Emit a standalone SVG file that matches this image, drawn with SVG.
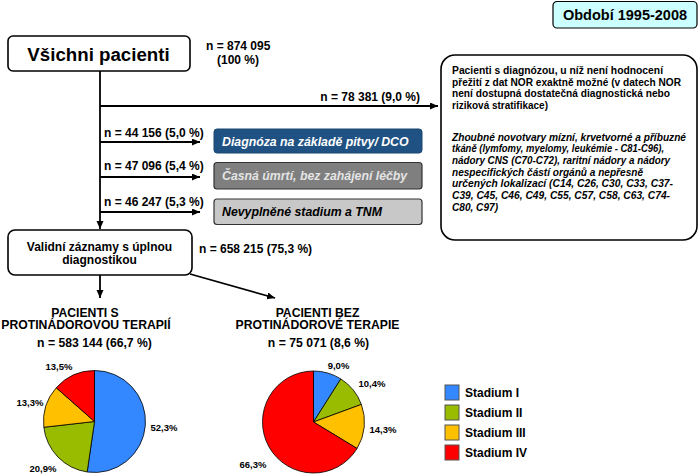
<svg xmlns="http://www.w3.org/2000/svg" width="700" height="474" viewBox="0 0 700 474">
<defs>
<marker id="arr" markerUnits="userSpaceOnUse" markerWidth="10" markerHeight="8" refX="8" refY="3.5" orient="auto">
<path d="M0,0 L8,3.5 L0,7 z" fill="#000"/>
</marker>
<style>
text{font-family:"Liberation Sans",Arial,sans-serif;font-weight:bold;fill:#000}
.box{fill:#fff;stroke:#000;stroke-width:1.6}
.ln{fill:none;stroke:#000;stroke-width:1.8}
.n{font-size:12px}
.mid{font-size:12.3px;font-style:italic}
.rt{font-size:11px}
.it{font-style:italic}
.pl{font-size:9.5px;text-anchor:middle}
.hd{font-size:12.2px;text-anchor:middle}
.sl{stroke:#000;stroke-width:0.8}
.lg{stroke:#555;stroke-width:1}
.c1{fill:#3388ff}.c2{fill:#99bb00}.c3{fill:#ffc000}.c4{fill:#ff0000}
</style>
</defs>
<g id="period">
<rect x="553" y="1.5" width="144" height="26.5" rx="4" fill="#ccffff" stroke="#000" stroke-width="1.2"/>
<text x="625" y="20" font-size="14.5" text-anchor="middle">Období 1995-2008</text>
</g>
<g id="all">
<rect class="box" x="8" y="36" width="182" height="35" rx="5"/>
<text x="98.5" y="61" font-size="18.7" text-anchor="middle">Všichni pacienti</text>
<text class="n" x="206" y="50">n = 874 095</text>
<text class="n" x="238" y="63.5" text-anchor="middle">(100 %)</text>
</g>
<g id="connectors">
<line class="ln" x1="100" y1="71" x2="100" y2="229" marker-end="url(#arr)"/>
<line class="ln" x1="100" y1="106" x2="438" y2="106" marker-end="url(#arr)"/>
<line class="ln" x1="100" y1="142" x2="200" y2="142" marker-end="url(#arr)"/>
<line class="ln" x1="100" y1="177" x2="200" y2="177" marker-end="url(#arr)"/>
<line class="ln" x1="100" y1="212" x2="200" y2="212" marker-end="url(#arr)"/>
<line class="ln" x1="100" y1="275" x2="100" y2="298" marker-end="url(#arr)"/>
<line class="ln" x1="190" y1="274" x2="275" y2="298" marker-end="url(#arr)"/>
<text class="n" x="420" y="101" text-anchor="end">n = 78 381 (9,0 %)</text>
<text class="n" x="104" y="137">n = 44 156 (5,0 %)</text>
<text class="n" x="104" y="169.5">n = 47 096 (5,4 %)</text>
<text class="n" x="104" y="206">n = 46 247 (5,3 %)</text>
</g>
<g id="dco">
<rect x="214" y="129" width="208" height="24" rx="3" fill="#1f5282" stroke="#1a4670" stroke-width="1"/>
<text class="mid" x="222" y="146" style="fill:#fff">Diagnóza na základě pitvy/ DCO</text>
</g>
<g id="early">
<rect x="214" y="162.5" width="208" height="26.5" rx="3" fill="#7f7f7f" stroke="#333" stroke-width="1.2"/>
<text class="mid" x="222" y="180" style="fill:#e4e4e4">Časná úmrtí, bez zahájení léčby</text>
</g>
<g id="nostage">
<rect x="214" y="199" width="208" height="25.5" rx="3" fill="#c8c8c8" stroke="#333" stroke-width="1.2"/>
<text class="mid" x="222" y="216">Nevyplněné stadium a TNM</text>
</g>
<g id="excluded">
<rect class="box" x="441" y="55" width="256" height="185" rx="14"/>
<text class="rt" x="452" y="74" textLength="211" lengthAdjust="spacingAndGlyphs">Pacienti s diagnózou, u níž není hodnocení</text>
<text class="rt" x="452" y="85.5" textLength="229" lengthAdjust="spacingAndGlyphs">přežití z dat NOR exaktně možné (v datech NOR</text>
<text class="rt" x="452" y="97" textLength="218" lengthAdjust="spacingAndGlyphs">není dostupná dostatečná diagnostická nebo</text>
<text class="rt" x="452" y="108.5" textLength="96" lengthAdjust="spacingAndGlyphs">riziková stratifikace)</text>
<text class="rt it" x="452" y="140.5" textLength="234" lengthAdjust="spacingAndGlyphs">Zhoubné novotvary mízní, krvetvorné a příbuzné</text>
<text class="rt it" x="452" y="152.2" textLength="212" lengthAdjust="spacingAndGlyphs">tkáně (lymfomy, myelomy, leukémie - C81-C96),</text>
<text class="rt it" x="452" y="163.9" textLength="218" lengthAdjust="spacingAndGlyphs">nádory CNS (C70-C72), raritní nádory a nádory</text>
<text class="rt it" x="452" y="175.6" textLength="191" lengthAdjust="spacingAndGlyphs">nespecifických částí orgánů a nepřesně</text>
<text class="rt it" x="452" y="187.3" textLength="221" lengthAdjust="spacingAndGlyphs">určených lokalizací (C14, C26, C30, C33, C37-</text>
<text class="rt it" x="452" y="199" textLength="218" lengthAdjust="spacingAndGlyphs">C39, C45, C46, C49, C55, C57, C58, C63, C74-</text>
<text class="rt it" x="452" y="210.7" textLength="46" lengthAdjust="spacingAndGlyphs">C80, C97)</text>
</g>
<g id="valid">
<rect class="box" x="8" y="230" width="184" height="45" rx="7"/>
<text class="n" x="99.5" y="251" text-anchor="middle">Validní záznamy s úplnou</text>
<text class="n" x="99.5" y="264" text-anchor="middle">diagnostikou</text>
<text class="n" x="199" y="253">n = 658 215 (75,3 %)</text>
</g>
<g id="withtherapy">
<text class="hd" x="85" y="316.5">PACIENTI S</text>
<text class="hd" x="86" y="329">PROTINÁDOROVOU TERAPIÍ</text>
<text class="hd" x="94.5" y="346.5">n = 583 144 (66,7 %)</text>
<path class="c1 sl" d="M94.5,421.5 L94.5,370.5 A51,51 0 1,1 87.16,471.97 Z"/>
<path class="c2 sl" d="M94.5,421.5 L87.16,471.97 A51,51 0 0,1 43.83,427.26 Z"/>
<path class="c3 sl" d="M94.5,421.5 L43.83,427.26 A51,51 0 0,1 56.24,387.77 Z"/>
<path class="c4 sl" d="M94.5,421.5 L56.24,387.77 A51,51 0 0,1 94.5,370.5 Z"/>
<text class="pl" x="59" y="369.5">13,5%</text>
<text class="pl" x="30" y="405.5">13,3%</text>
<text class="pl" x="164" y="430.5">52,3%</text>
<text class="pl" x="43" y="471.5">20,9%</text>
</g>
<g id="withouttherapy">
<text class="hd" x="317.5" y="316.5">PACIENTI BEZ</text>
<text class="hd" x="317.5" y="329">PROTINÁDOROVÉ TERAPIE</text>
<text class="hd" x="318.5" y="346.5">n = 75 071 (8,6 %)</text>
<path class="c1 sl" d="M313.5,422 L313.5,371 A51,51 0 0,1 340.83,378.94 Z"/>
<path class="c2 sl" d="M313.5,422 L340.83,378.94 A51,51 0 0,1 361.38,404.42 Z"/>
<path class="c3 sl" d="M313.5,422 L361.38,404.42 A51,51 0 0,1 357.07,448.51 Z"/>
<path class="c4 sl" d="M313.5,422 L357.07,448.51 A51,51 0 1,1 313.5,371 Z"/>
<text class="pl" x="338.5" y="368.5">9,0%</text>
<text class="pl" x="372" y="386.5">10,4%</text>
<text class="pl" x="383" y="432.5">14,3%</text>
<text class="pl" x="253" y="467.5">66,3%</text>
</g>
<g id="legend">
<rect class="c1 lg" x="445" y="385" width="14" height="15"/>
<rect class="c2 lg" x="445" y="405" width="14" height="15"/>
<rect class="c3 lg" x="445" y="425" width="14" height="15"/>
<rect class="c4 lg" x="445" y="445" width="14" height="15"/>
<text class="n" x="465" y="396.5">Stadium I</text>
<text class="n" x="465" y="416.5">Stadium II</text>
<text class="n" x="465" y="436.5">Stadium III</text>
<text class="n" x="465" y="456.5">Stadium IV</text>
</g>
</svg>
